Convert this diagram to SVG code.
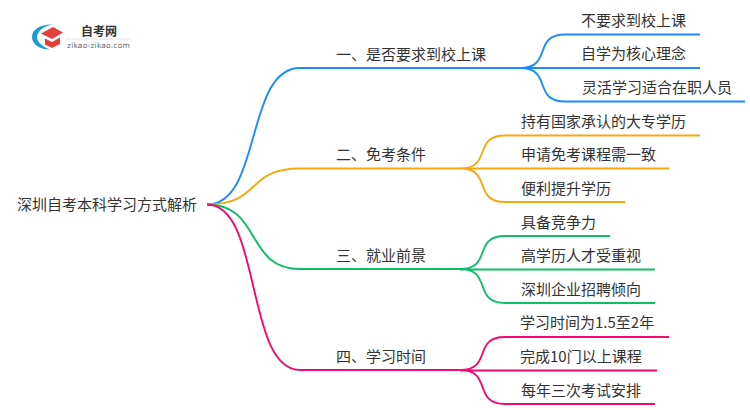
<svg xmlns="http://www.w3.org/2000/svg" width="750" height="410" viewBox="0 0 750 410">
<style>
text{font-family:"Noto Sans CJK SC","Noto Sans",sans-serif;font-size:15px;fill:#333}
.c{fill:none;stroke-width:1.9}
.b{stroke:#1a8cff}.o{stroke:#f5a90f}.g{stroke:#0fbf68}.p{stroke:#f5096e}
</style>
<rect width="750" height="410" fill="#fff"/>
<g id="logo">
<path d="M52 24.500C41 24 32 29 32 37C32 45 41 49.500 50 49.500C43 47 37.500 43 37 37C37.500 31 44 26 52 24.500Z" fill="#1a9ad6"/>
<path d="M41 33.500L53 27L63 32.500L52 39Z" fill="#e4403a"/>
<path d="M45 38.500L52 42L60 37.500V44L52 48L45 44.500Z" fill="#e4403a"/>
<text x="81" y="35.500" style="font-size:12px;font-weight:700;fill:#333">自考网</text>
<rect x="66" y="38.500" width="65" height="1" fill="#e6e6e6"/>
<text x="67" y="48" style="font-family:'DejaVu Sans',sans-serif;font-size:7.500px;fill:#666;letter-spacing:.2px">zikao-zikao.com</text>
</g>
<g id="connectors">
<path class="c b" d="M207 204.500C262 204.500 245 68 300 68H522"/>
<path class="c o" d="M207 204.500C262 204.500 245 168.500 300 168.500H460"/>
<path class="c g" d="M207 204.500C262 204.500 245 269 300 269H460"/>
<path class="c p" d="M207 204.500C262 204.500 245 370 300 370H460"/>
<path class="c b" d="M520 68C553 68 532 34.500 565 34.500H700M520 68H700M520 68C553 68 532 101.500 565 101.500H745"/>
<path class="c o" d="M460 168.500C493 168.500 472 135.500 505 135.500H700M460 168.500H669M460 168.500C493 168.500 472 202 505 202H625"/>
<path class="c g" d="M460 269C493 269 472 236 505 236H610M460 269.500H655M460 269C493 269 472 303 505 303H655"/>
<path class="c p" d="M460 370C493 370 472 337 505 337H669M460 370.500H657M460 370C493 370 472 404 505 404H655"/>
</g>
<g id="root"><text x="17" y="210">深圳自考本科学习方式解析</text></g>
<g id="b1"><text x="336" y="60">一、是否要求到校上课</text></g>
<g id="b2"><text x="336" y="160">二、免考条件</text></g>
<g id="b3"><text x="336" y="261">三、就业前景</text></g>
<g id="b4"><text x="336" y="362">四、学习时间</text></g>
<g id="l11"><text x="581" y="26">不要求到校上课</text></g>
<g id="l12"><text x="581" y="59">自学为核心理念</text></g>
<g id="l13"><text x="582" y="93">灵活学习适合在职人员</text></g>
<g id="l21"><text x="521" y="127">持有国家承认的大专学历</text></g>
<g id="l22"><text x="521" y="160">申请免考课程需一致</text></g>
<g id="l23"><text x="521" y="194">便利提升学历</text></g>
<g id="l31"><text x="521" y="228">具备竞争力</text></g>
<g id="l32"><text x="521" y="261">高学历人才受重视</text></g>
<g id="l33"><text x="521" y="295">深圳企业招聘倾向</text></g>
<g id="l41"><text x="520" y="328">学习时间为1.5至2年</text></g>
<g id="l42"><text x="520" y="362">完成10门以上课程</text></g>
<g id="l43"><text x="521" y="396">每年三次考试安排</text></g>
</svg>
